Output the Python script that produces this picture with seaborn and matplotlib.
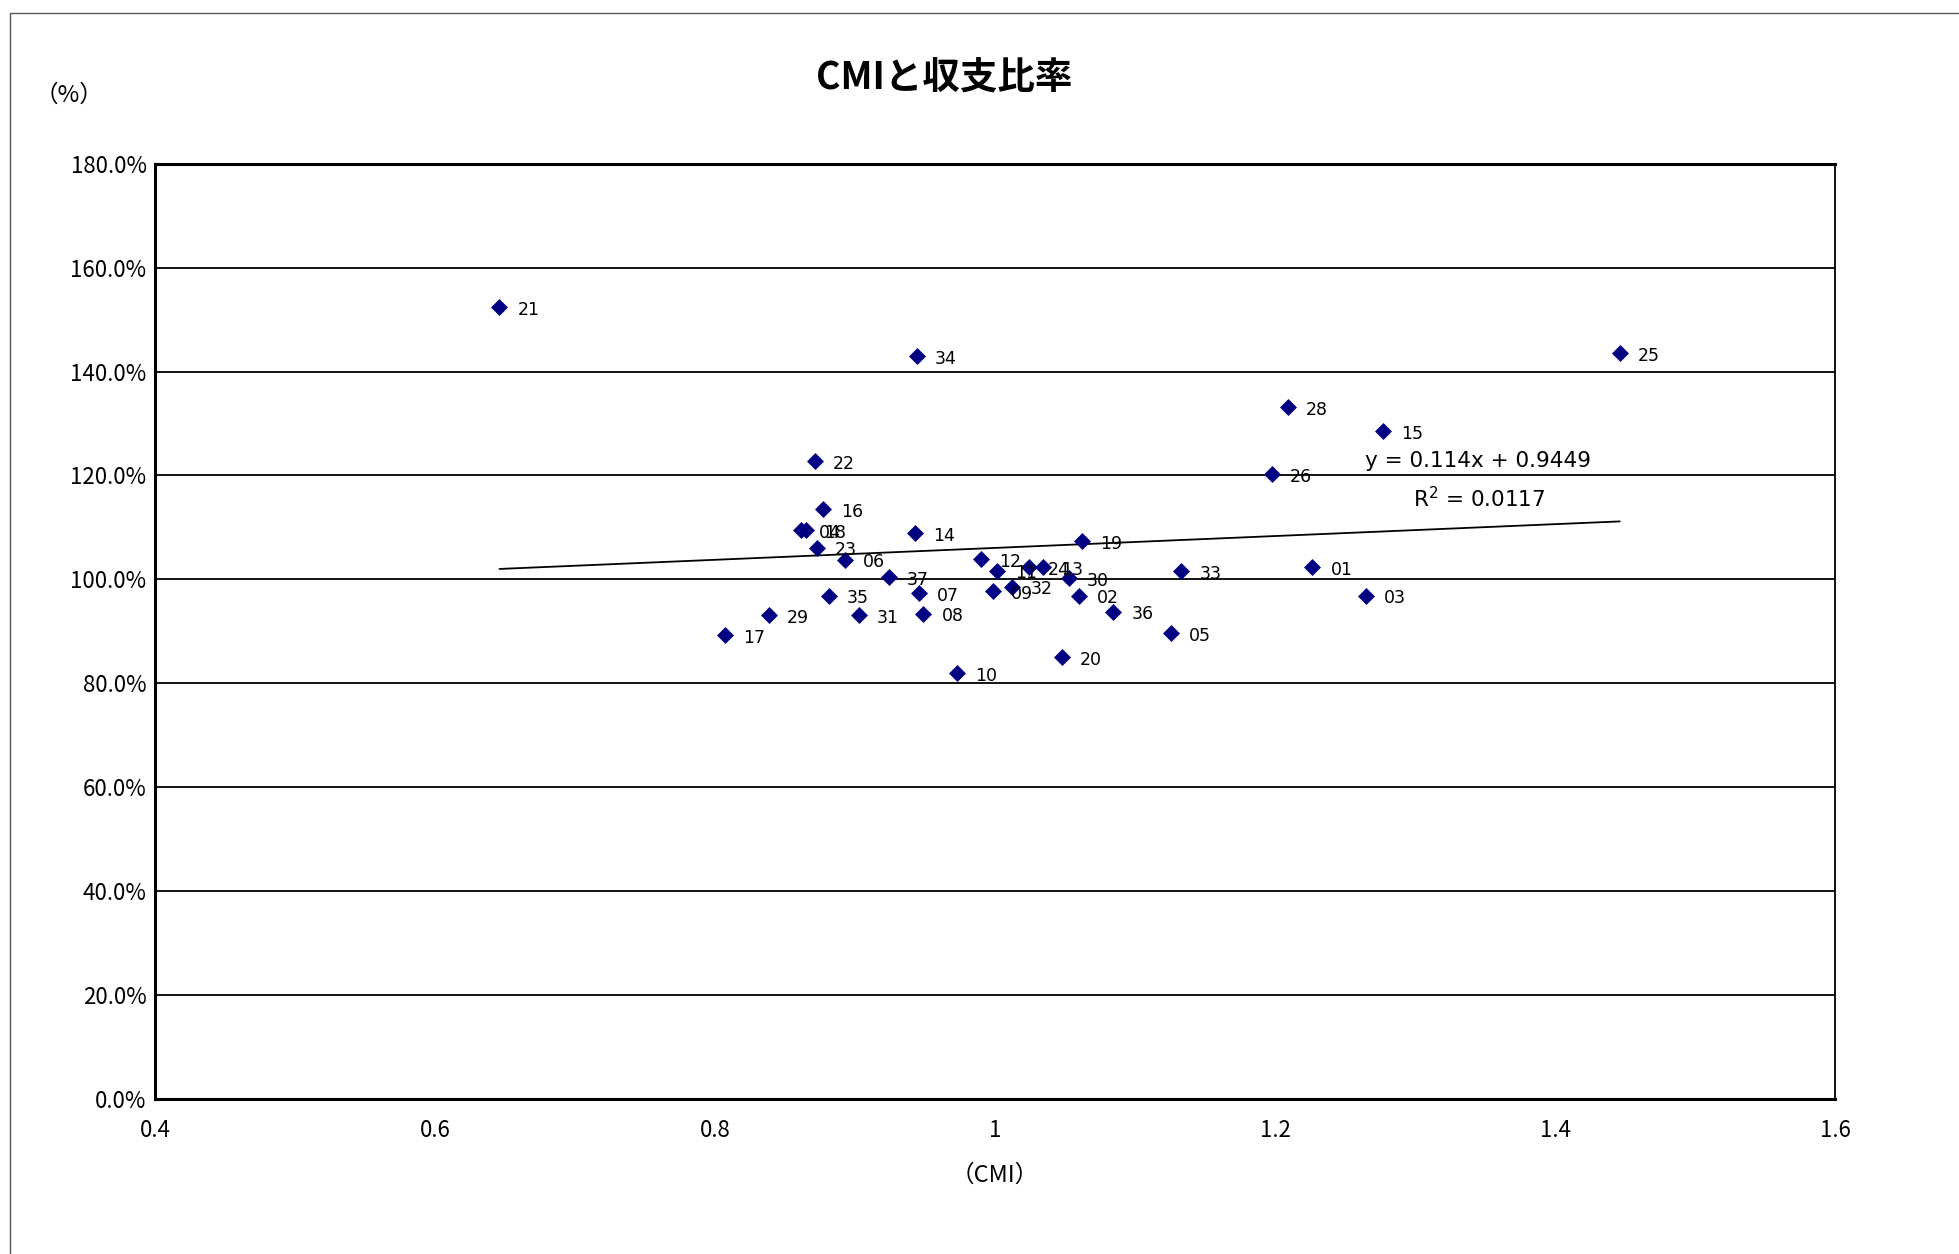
import numpy as np
import pandas as pd
import matplotlib
matplotlib.use('Agg')
import matplotlib.pyplot as plt
import seaborn as sns
from matplotlib.ticker import FuncFormatter, MultipleLocator
from matplotlib.patches import Rectangle

# Values
ids = ['01', '02', '03', '04', '05', '06', '07', '08', '09', '10',
       '11', '12', '13', '14', '15', '16', '17', '18', '19', '20',
       '21', '22', '23', '24', '25', '26', '28', '29', '30', '31',
       '32', '33', '34', '35', '36', '37']
cmi = [1.2265, 1.060, 1.2647, 0.861, 1.1257, 0.8925, 0.9456, 0.9487, 0.9986, 0.9727,
       1.0015, 0.990, 1.0343, 0.943, 1.2767, 0.877, 0.807, 0.865, 1.0617, 1.0475,
       0.646, 0.871, 0.8725, 1.0243, 1.446, 1.1975, 1.209, 0.8384, 1.0527, 0.9027,
       1.0122, 1.133, 0.944, 0.881, 1.0843, 0.924]
ratio = [102.4, 96.9, 96.9, 109.5, 89.7, 103.8, 97.4, 93.4, 97.7, 82.0,
         101.7, 103.9, 102.3, 108.9, 128.6, 113.5, 89.3, 109.5, 107.4, 85.0,
         152.4, 122.8, 106.1, 102.3, 143.5, 120.2, 133.1, 93.1, 100.2, 93.1,
         98.6, 101.65, 143.0, 96.9, 93.8, 100.4]
equation = 'y = 0.114x + 0.9449'
r_squared = 'R$^2$ = 0.0117'

df = pd.DataFrame({'id': ids, 'CMI': cmi, 'ratio': ratio})

sns.set_style('white')
plt.rcParams['font.family'] = ['Noto Sans CJK JP', 'DejaVu Sans']
plt.rcParams['text.color'] = 'black'
plt.rcParams['axes.labelcolor'] = 'black'
plt.rcParams['xtick.color'] = 'black'
plt.rcParams['ytick.color'] = 'black'

fig = plt.figure(figsize=(19.59, 12.54), dpi=100)
ax = fig.add_axes([0.0791, 0.1235, 0.8578, 0.746])

# outer chart border
fig.add_artist(Rectangle((0.005, -0.01), 1.2, 1.0, transform=fig.transFigure,
                         fill=False, edgecolor='#555555', linewidth=1))

sns.scatterplot(data=df, x='CMI', y='ratio', marker='D', color='#000080',
                s=75, edgecolor='#000080', linewidth=0, ax=ax, zorder=3)

# linear trend line
sns.regplot(data=df, x='CMI', y='ratio', scatter=False, ci=None, truncate=True,
            line_kws={'color': 'black', 'linewidth': 1.3}, ax=ax)

for _, row in df.iterrows():
    ax.annotate(row['id'], (row['CMI'], row['ratio']), xytext=(13, -2),
                textcoords='offset points', ha='left', va='center',
                fontsize=12.5, family=['DejaVu Sans'], zorder=4)

ax.text(1.345, 122.8, equation, ha='center', va='center', fontsize=15.5,
        family=['DejaVu Sans'])
ax.text(1.346, 115.6, r_squared, ha='center', va='center', fontsize=15.5,
        family=['DejaVu Sans'])

ax.set_xlim(0.4, 1.6)
ax.set_ylim(0, 180)
ax.xaxis.set_major_locator(MultipleLocator(0.2))
ax.yaxis.set_major_locator(MultipleLocator(20))
ax.xaxis.set_major_formatter(FuncFormatter(lambda v, p: f'{v:g}'))
ax.yaxis.set_major_formatter(FuncFormatter(lambda v, p: f'{v:.1f}%'))
ax.grid(axis='y', color='black', linewidth=1.3)
ax.set_axisbelow(True)
ax.tick_params(axis='x', direction='in', length=8, width=1, labelsize=16, pad=14)
ax.tick_params(axis='y', length=0, labelsize=16, pad=6)
for side in ['top', 'bottom', 'left']:
    ax.spines[side].set_linewidth(2.2)
ax.spines['right'].set_linewidth(1.3)
for sp in ax.spines.values():
    sp.set_color('black')

ax.set_xlabel('（CMI）', fontsize=17, labelpad=16)
ax.set_ylabel('')
fig.text(0.035, 0.924, '（%）', fontsize=17, ha='center', va='center')
fig.text(0.482, 0.938, 'CMIと収支比率', fontsize=27, fontweight='bold',
         ha='center', va='center')

fig.savefig('out.png', dpi=100)
